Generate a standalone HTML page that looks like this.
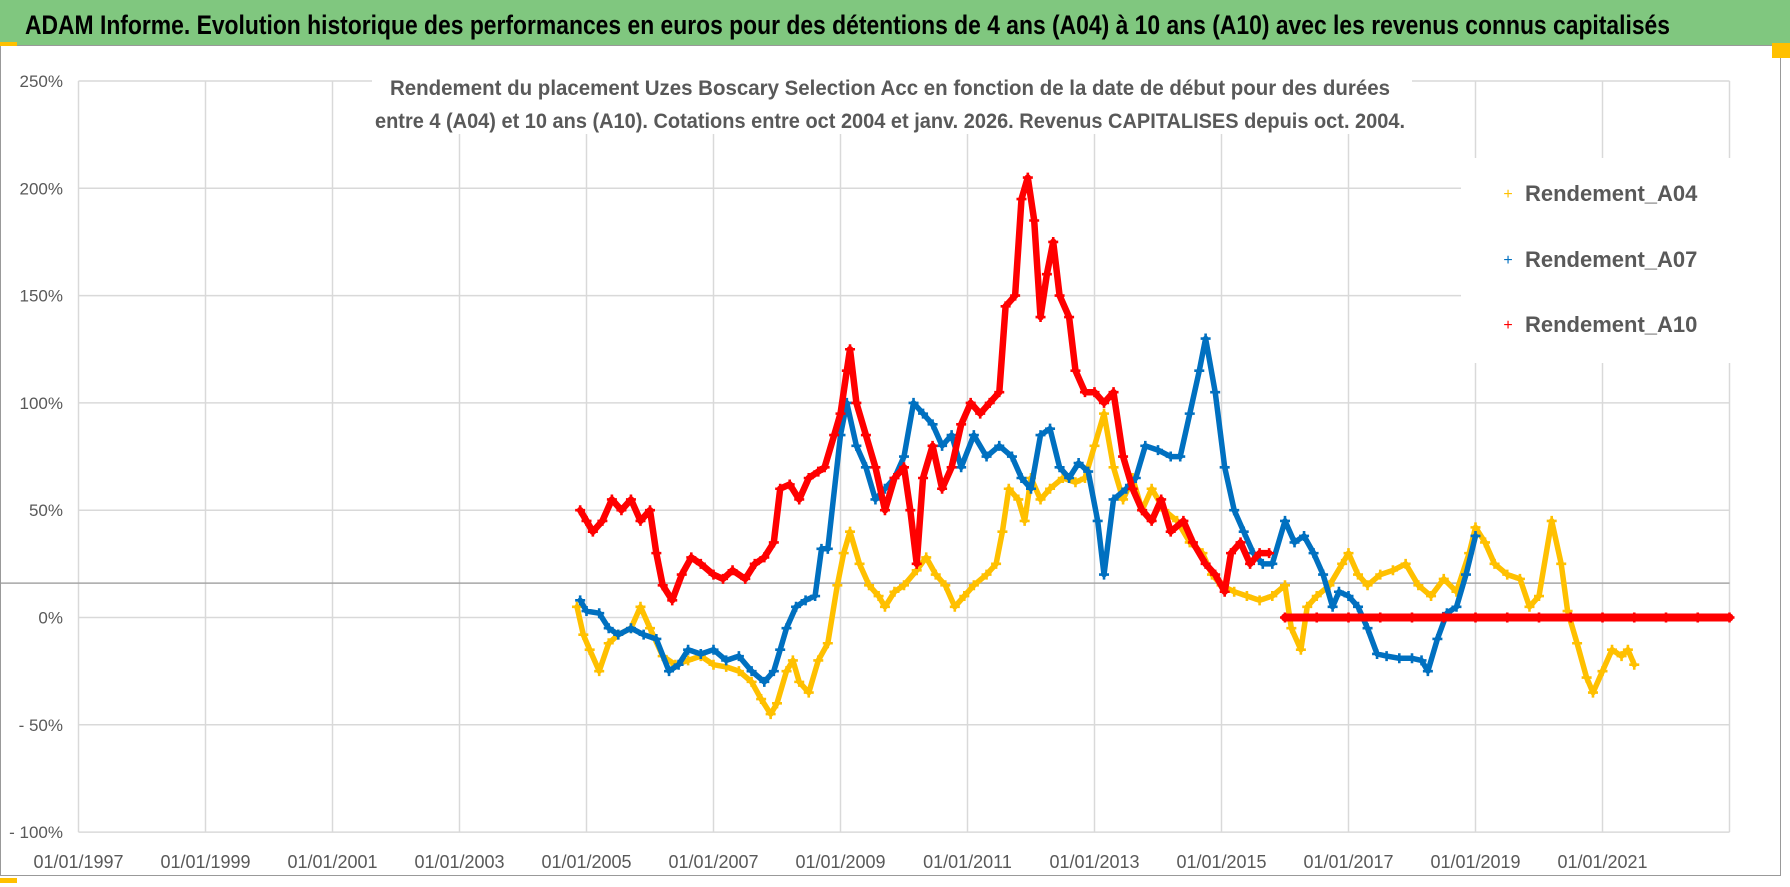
<!DOCTYPE html>
<html><head><meta charset="utf-8"><style>
html,body{margin:0;padding:0;background:#fff;}
svg{display:block;}
text{font-family:"Liberation Sans Narrow","Liberation Sans",sans-serif;}
</style></head><body>
<svg id="chart" width="1790" height="887" viewBox="0 0 1790 887" xmlns="http://www.w3.org/2000/svg">
<rect x="0" y="0" width="1790" height="887" fill="#fff"/>
<rect x="0" y="0" width="1790" height="45" fill="#80c77f"/>
<text x="25" y="34" font-size="27" font-weight="bold" fill="#000" textLength="1645" lengthAdjust="spacingAndGlyphs">ADAM Informe. Evolution historique des performances en euros pour des détentions de 4 ans (A04) à 10 ans (A10) avec les revenus connus capitalisés</text>
<rect x="0.5" y="45.5" width="1780" height="830" fill="none" stroke="#999" stroke-width="1"/>
<rect x="1772" y="43" width="18" height="15" fill="#ffc000"/>
<rect x="0" y="42" width="17" height="4" fill="#ffc000"/>
<rect x="0" y="878" width="17" height="5" fill="#ffc000"/>
<g id="grid"></g>
<rect x="372" y="62" width="1040" height="72" fill="#fff"/>
<text x="890" y="95" font-size="21" font-weight="bold" fill="#595959" text-anchor="middle" textLength="1000" lengthAdjust="spacingAndGlyphs">Rendement du placement Uzes Boscary Selection Acc en fonction de la date de début pour des durées</text>
<text x="890" y="128" font-size="21" font-weight="bold" fill="#595959" text-anchor="middle" textLength="1030" lengthAdjust="spacingAndGlyphs">entre 4 (A04) et 10 ans (A10). Cotations entre oct 2004 et janv. 2026. Revenus CAPITALISES depuis oct. 2004.</text>
<g id="series"></g>
<g>
<rect x="1461" y="158" width="270" height="205" fill="#fff"/>
<g><text x="1508" y="199" font-size="16" fill="#ffc000" text-anchor="middle">+</text><text x="1525" y="201" font-size="22" font-weight="bold" fill="#595959">Rendement_A04</text></g>
<g><text x="1508" y="265" font-size="16" fill="#0070c0" text-anchor="middle">+</text><text x="1525" y="267" font-size="22" font-weight="bold" fill="#595959">Rendement_A07</text></g>
<g><text x="1508" y="330" font-size="16" fill="#ff0000" text-anchor="middle">+</text><text x="1525" y="332" font-size="22" font-weight="bold" fill="#595959">Rendement_A10</text></g>
</g>
</svg>
<script>
const yTicks=[-100,-50,0,50,100,150,200,250];
const yTickLabels=["- 100%","- 50%","0%","50%","100%","150%","200%","250%"];
const xTicks=[1997,1999,2001,2003,2005,2007,2009,2011,2013,2015,2017,2019,2021];
const xTickLabels=["01/01/1997","01/01/1999","01/01/2001","01/01/2003","01/01/2005","01/01/2007","01/01/2009","01/01/2011","01/01/2013","01/01/2015","01/01/2017","01/01/2019","01/01/2021"];
const refLine=16;
const a04Dates=[2004.85,2004.95,2005.05,2005.2,2005.35,2005.5,2005.7,2005.85,2006.0,2006.2,2006.4,2006.6,2006.8,2007.0,2007.2,2007.4,2007.6,2007.75,2007.9,2008.0,2008.15,2008.25,2008.35,2008.5,2008.65,2008.8,2008.95,2009.05,2009.15,2009.3,2009.45,2009.6,2009.7,2009.85,2010.0,2010.2,2010.35,2010.5,2010.65,2010.8,2010.95,2011.1,2011.3,2011.45,2011.55,2011.65,2011.8,2011.9,2012.0,2012.15,2012.3,2012.5,2012.7,2012.85,2013.0,2013.15,2013.3,2013.45,2013.6,2013.75,2013.9,2014.1,2014.3,2014.5,2014.7,2014.85,2015.0,2015.2,2015.4,2015.6,2015.8,2016.0,2016.1,2016.25,2016.35,2016.5,2016.7,2016.9,2017.0,2017.15,2017.3,2017.5,2017.7,2017.9,2018.1,2018.3,2018.5,2018.7,2018.9,2019.0,2019.15,2019.3,2019.5,2019.7,2019.85,2020.0,2020.2,2020.35,2020.45,2020.6,2020.75,2020.85,2021.0,2021.15,2021.3,2021.4,2021.5];
const a04Values=[5,-8,-15,-25,-12,-8,-5,5,-5,-18,-22,-20,-18,-22,-23,-25,-30,-38,-45,-40,-25,-20,-30,-35,-20,-12,15,30,40,25,15,10,5,12,15,22,28,20,15,5,10,15,20,25,40,60,55,45,65,55,60,65,63,65,80,95,70,55,65,50,60,50,45,35,30,20,15,12,10,8,10,15,-5,-15,5,10,15,25,30,20,15,20,22,25,15,10,18,12,30,42,35,25,20,18,5,10,45,25,3,-12,-28,-35,-25,-15,-18,-15,-22];
const a07Dates=[2004.9,2005.0,2005.2,2005.35,2005.5,2005.7,2005.9,2006.1,2006.3,2006.45,2006.6,2006.8,2007.0,2007.2,2007.4,2007.6,2007.8,2007.95,2008.05,2008.15,2008.3,2008.45,2008.6,2008.7,2008.8,2009.0,2009.1,2009.25,2009.4,2009.55,2009.7,2009.85,2010.0,2010.15,2010.3,2010.45,2010.6,2010.75,2010.9,2011.1,2011.3,2011.5,2011.7,2011.85,2012.0,2012.15,2012.3,2012.45,2012.6,2012.75,2012.9,2013.05,2013.15,2013.3,2013.5,2013.65,2013.8,2014.0,2014.2,2014.35,2014.5,2014.65,2014.75,2014.9,2015.05,2015.2,2015.35,2015.5,2015.65,2015.8,2016.0,2016.15,2016.3,2016.45,2016.6,2016.75,2016.85,2017.0,2017.15,2017.3,2017.45,2017.6,2017.8,2018.0,2018.15,2018.25,2018.4,2018.55,2018.7,2018.85,2019.0];
const a07Values=[8,3,2,-5,-8,-5,-8,-10,-25,-22,-15,-17,-15,-20,-18,-25,-30,-25,-15,-5,5,8,10,32,32,85,100,80,70,55,60,65,75,100,95,90,80,85,70,85,75,80,75,65,60,85,88,70,65,72,68,45,20,55,60,65,80,78,75,75,95,115,130,105,70,50,40,30,25,25,45,35,38,30,20,5,12,10,5,-5,-17,-18,-19,-19,-20,-25,-10,2,5,20,38];
const a10Dates=[2004.9,2005.0,2005.1,2005.25,2005.4,2005.55,2005.7,2005.85,2006.0,2006.1,2006.2,2006.35,2006.5,2006.65,2006.8,2007.0,2007.15,2007.3,2007.5,2007.65,2007.8,2007.95,2008.05,2008.2,2008.35,2008.5,2008.65,2008.75,2008.9,2009.0,2009.1,2009.15,2009.25,2009.4,2009.55,2009.7,2009.85,2010.0,2010.1,2010.2,2010.3,2010.45,2010.6,2010.75,2010.9,2011.05,2011.2,2011.35,2011.5,2011.6,2011.75,2011.85,2011.95,2012.05,2012.15,2012.25,2012.35,2012.45,2012.6,2012.7,2012.85,2013.0,2013.15,2013.3,2013.45,2013.6,2013.75,2013.9,2014.05,2014.2,2014.4,2014.55,2014.75,2014.9,2015.05,2015.15,2015.3,2015.45,2015.6,2015.75];
const a10Values=[50,45,40,45,55,50,55,45,50,30,15,8,20,28,25,20,18,22,18,25,28,35,60,62,55,65,68,70,85,95,115,125,100,85,70,50,65,70,50,25,65,80,60,70,90,100,95,100,105,145,150,195,205,185,140,160,175,150,140,115,105,105,100,105,75,60,50,45,55,40,45,35,25,20,12,30,35,25,30,30];
const a10FlatDates=[2016.0,2016.5,2017.0,2017.5,2018.0,2018.5,2019.0,2019.5,2020.0,2020.5,2021.0,2021.5,2022.0,2022.5,2023.0];
const a10FlatValues=[0,0,0,0,0,0,0,0,0,0,0,0,0,0,0];

const NS="http://www.w3.org/2000/svg";
const X0=78.5,PX_YEAR=63.5,Y0=617.5,PX_PCT=2.146,XMIN=1997,XMAX=2023;
function xs(y){return X0+(y-XMIN)*PX_YEAR;}
function ys(v){return Y0-v*PX_PCT;}
function mk(tag,attrs,parent){const e=document.createElementNS(NS,tag);for(const k in attrs)e.setAttribute(k,attrs[k]);parent.appendChild(e);return e;}
const grid=document.getElementById('grid');
const pL=xs(XMIN),pR=xs(XMAX),pT=ys(250),pB=ys(-100);
xTicks.concat([XMAX]).forEach(t=>{
  const l=mk('line',{x1:xs(t),x2:xs(t),y1:pT,y2:pB,stroke:'#d9d9d9','stroke-width':1.5},grid);
  
  
});
yTicks.forEach((t,i)=>{
  const l=mk('line',{x1:pL,x2:pR,y1:ys(t),y2:ys(t),stroke:'#d9d9d9','stroke-width':1.5},grid);
  
  
  const tx=mk('text',{x:63,y:ys(t)+6,'font-size':17,fill:'#595959','text-anchor':'end'},grid);
  tx.textContent=yTickLabels[i];
  
  
});
xTicks.forEach((t,i)=>{
  const tx=mk('text',{x:xs(t),y:868,'font-size':18,fill:'#595959','text-anchor':'middle'},grid);
  tx.textContent=xTickLabels[i];
  
  
});
const rl=mk('line',{x1:1,x2:pR,y1:ys(refLine),y2:ys(refLine),stroke:'#a6a6a6','stroke-width':1.5},grid);



const ser=document.getElementById('series');
function draw(dates,vals,color,name,lw){
  const g=mk('g',{},ser);
  
  
  const pts=dates.map((d,i)=>xs(d).toFixed(1)+','+ys(vals[i]).toFixed(1)).join(' ');
  mk('polyline',{points:pts,fill:'none',stroke:color,'stroke-width':lw,'stroke-linejoin':'round','stroke-linecap':'round'},g);
  dates.forEach((d,i)=>{
    const x=xs(d),y=ys(vals[i]);
    const p=mk('path',{d:`M${x-5},${y}H${x+5}M${x},${y-5}V${y+5}`,stroke:color,'stroke-width':2.6},g);
    
    
  });
}
draw(a04Dates,a04Values,'#ffc000','series-a04',5.5);
draw(a07Dates,a07Values,'#0070c0','series-a07',5.5);
draw(a10Dates,a10Values,'#ff0000','series-a10',6.5);
draw(a10FlatDates,a10FlatValues,'#ff0000','series-a10-flat',8);
</script>
</body></html>
